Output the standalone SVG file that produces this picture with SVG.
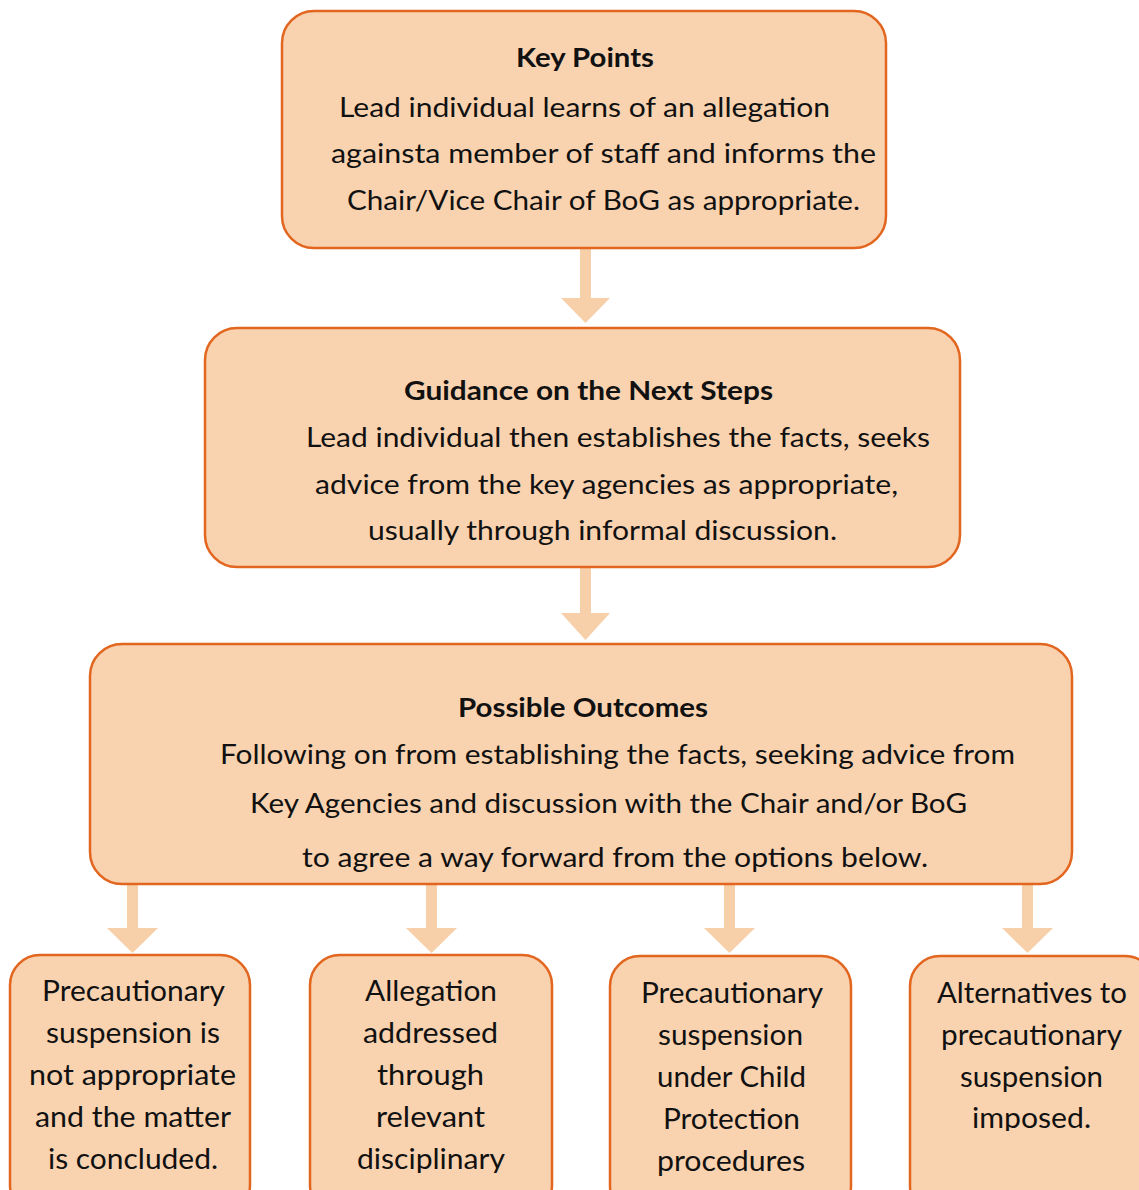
<svg xmlns="http://www.w3.org/2000/svg" width="1139" height="1190" viewBox="0 0 1139 1190">
<defs>
<style>
.box{fill:#f9d3b0;stroke:#e2661f;stroke-width:2.5}
.arr{fill:#f7cfa8}
text{font-family:Lato,"Liberation Sans",sans-serif;fill:#111;text-anchor:start}
.h{font-weight:bold;font-size:27px}
.b{font-size:27px}
.s{font-size:29px}
</style>
<clipPath id="clipB"><rect x="300" y="940" width="260" height="233"/></clipPath>
<clipPath id="clipD"><rect x="900" y="940" width="239" height="191"/></clipPath>
</defs>
<rect width="1139" height="1190" fill="#fff"/>
<g id="connectors">
<rect class="arr" x="580" y="248" width="11" height="52"/><polygon class="arr" points="561,298 610,298 585.5,323"/>
<rect class="arr" x="580" y="567" width="11" height="48"/><polygon class="arr" points="561,613 610,613 585.5,640"/>
<rect class="arr" x="127" y="884" width="11" height="46"/><polygon class="arr" points="107,928 158,928 132.5,953"/>
<rect class="arr" x="426" y="884" width="11" height="46"/><polygon class="arr" points="406,928 457,928 431.5,953"/>
<rect class="arr" x="724" y="884" width="11" height="46"/><polygon class="arr" points="704,928 755,928 729.5,953"/>
<rect class="arr" x="1022" y="884" width="11" height="46"/><polygon class="arr" points="1002,928 1053,928 1027.5,953"/>
</g>
<g id="key-points">
<rect class="box" x="282" y="11" width="604" height="237" rx="32"/>
<text class="h" x="516" y="67" textLength="138" lengthAdjust="spacingAndGlyphs">Key Points</text>
<text class="b" x="339" y="117" textLength="491" lengthAdjust="spacingAndGlyphs">Lead individual learns of an allegation</text>
<text class="b" x="331" y="163" textLength="545" lengthAdjust="spacingAndGlyphs">againsta member of staff and informs the</text>
<text class="b" x="347" y="210" textLength="513" lengthAdjust="spacingAndGlyphs">Chair/Vice Chair of BoG as appropriate.</text>
</g>
<g id="next-steps">
<rect class="box" x="205" y="328" width="755" height="239" rx="32"/>
<text class="h" x="404" y="400" textLength="369" lengthAdjust="spacingAndGlyphs">Guidance on the Next Steps</text>
<text class="b" x="306" y="447" textLength="624" lengthAdjust="spacingAndGlyphs">Lead individual then establishes the facts, seeks</text>
<text class="b" x="315" y="494" textLength="583" lengthAdjust="spacingAndGlyphs">advice from the key agencies as appropriate,</text>
<text class="b" x="368" y="540" textLength="469" lengthAdjust="spacingAndGlyphs">usually through informal discussion.</text>
</g>
<g id="outcomes">
<rect class="box" x="90" y="644" width="982" height="240" rx="32"/>
<text class="h" x="458" y="717" textLength="250" lengthAdjust="spacingAndGlyphs">Possible Outcomes</text>
<text class="b" x="220" y="764" textLength="795" lengthAdjust="spacingAndGlyphs">Following on from establishing the facts, seeking advice from</text>
<text class="b" x="250" y="813" textLength="717" lengthAdjust="spacingAndGlyphs">Key Agencies and discussion with the Chair and/or BoG</text>
<text class="b" x="302" y="867" textLength="626" lengthAdjust="spacingAndGlyphs">to agree a way forward from the options below.</text>
</g>
<g id="outcome-a">
<rect class="box" x="10" y="955" width="240" height="260" rx="30"/>
<text class="s" x="42" y="1001" textLength="183" lengthAdjust="spacingAndGlyphs">Precautionary</text>
<text class="s" x="46" y="1043" textLength="174" lengthAdjust="spacingAndGlyphs">suspension is</text>
<text class="s" x="29" y="1085" textLength="207" lengthAdjust="spacingAndGlyphs">not appropriate</text>
<text class="s" x="35" y="1127" textLength="196" lengthAdjust="spacingAndGlyphs">and the matter</text>
<text class="s" x="48" y="1169" textLength="170" lengthAdjust="spacingAndGlyphs">is concluded.</text>
</g>
<g id="outcome-b">
<rect class="box" x="310" y="955" width="242" height="260" rx="30"/>
<g clip-path="url(#clipB)">
<text class="s" x="365" y="1001" textLength="132" lengthAdjust="spacingAndGlyphs">Allegation</text>
<text class="s" x="363" y="1043" textLength="135" lengthAdjust="spacingAndGlyphs">addressed</text>
<text class="s" x="377" y="1085" textLength="107" lengthAdjust="spacingAndGlyphs">through</text>
<text class="s" x="376" y="1127" textLength="109" lengthAdjust="spacingAndGlyphs">relevant</text>
<text class="s" x="357" y="1169" textLength="148" lengthAdjust="spacingAndGlyphs">disciplinary</text>
</g>
</g>
<g id="outcome-c">
<rect class="box" x="610" y="956" width="241" height="260" rx="30"/>
<text class="s" x="641" y="1003" textLength="182" lengthAdjust="spacingAndGlyphs">Precautionary</text>
<text class="s" x="658" y="1045" textLength="145" lengthAdjust="spacingAndGlyphs">suspension</text>
<text class="s" x="657" y="1087" textLength="149" lengthAdjust="spacingAndGlyphs">under Child</text>
<text class="s" x="663" y="1129" textLength="137" lengthAdjust="spacingAndGlyphs">Protection</text>
<text class="s" x="657" y="1171" textLength="148" lengthAdjust="spacingAndGlyphs">procedures</text>
</g>
<g id="outcome-d">
<rect class="box" x="910" y="956" width="245" height="260" rx="30"/>
<g clip-path="url(#clipD)">
<text class="s" x="937" y="1003" textLength="190" lengthAdjust="spacingAndGlyphs">Alternatives to</text>
<text class="s" x="941" y="1045" textLength="181" lengthAdjust="spacingAndGlyphs">precautionary</text>
<text class="s" x="960" y="1087" textLength="143" lengthAdjust="spacingAndGlyphs">suspension</text>
<text class="s" x="972" y="1128" textLength="119" lengthAdjust="spacingAndGlyphs">imposed.</text>
</g>
</g>
</svg>
